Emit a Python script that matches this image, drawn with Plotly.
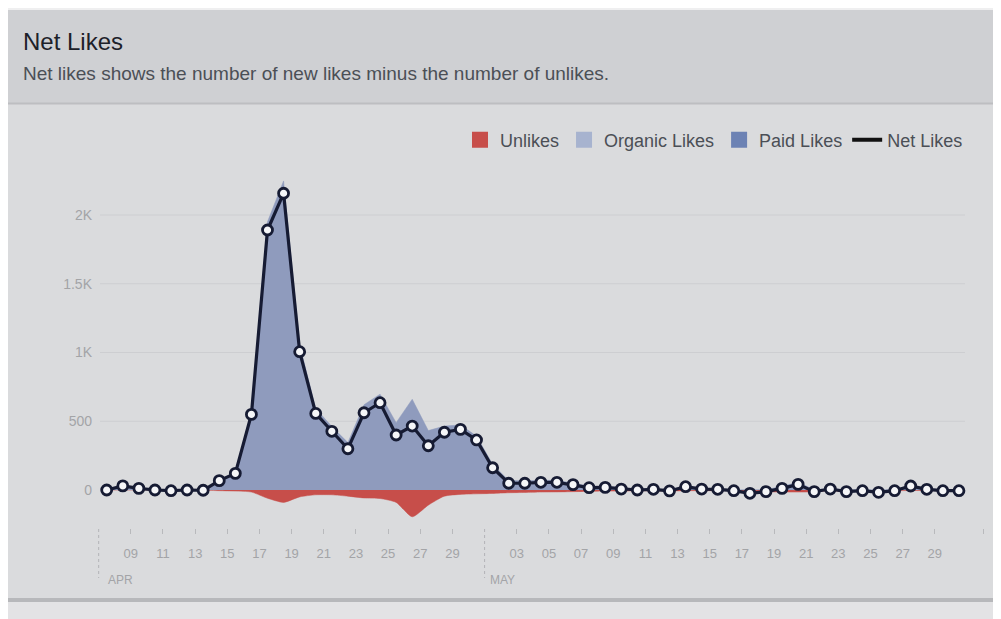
import pandas as pd
import plotly.graph_objects as go

# ---------------- data ----------------
start_date = "2015-04-08"
net_likes = [0, 30, 12, 0, -5, 0, -2, 68, 121, 550,
             1891, 2158, 1006, 557, 427, 300, 562, 635, 400, 465,
             322, 420, 441, 364, 162, 49, 49, 56, 56, 39,
             17, 19, 7, 0, 5, -7, 24, 7, 5, -5,
             -24, -12, 12, 41, -12, 7, -12, -5, -17, -5,
             29, 5, -5, -5]
unlikes = [0, 0, 0, 0, -5, 0, -2, -5, -8, -15,
           -60, -90, -50, -35, -35, -45, -58, -62, -90, -195,
           -110, -45, -32, -28, -25, -20, -18, -15, -14, -12,
           -10, -8, -8, -6, -6, -8, -5, -5, -5, -6,
           -25, -14, -15, -15, -14, -5, -13, -6, -18, -6,
           -4, -4, -6, -6]
paid_likes = [0] * len(net_likes)
organic_likes = [n - u - p for n, u, p in zip(net_likes, unlikes, paid_likes)]
dates = pd.date_range(start_date, periods=len(net_likes), freq="D")

apr_tick_days = ["09", "11", "13", "15", "17", "19", "21", "23", "25", "27", "29"]
may_tick_days = ["03", "05", "07", "09", "11", "13", "15", "17", "19", "21", "23", "25", "27", "29"]
y_tick_vals = [0, 500, 1000, 1500, 2000]
y_tick_text = ["0", "500", "1K", "1.5K", "2K"]
legend_names = ["Unlikes", "Organic Likes", "Paid Likes", "Net Likes"]

# ---------------- styling / geometry ----------------
OFF = 8                      # page body margin
W, H = 1001 - OFF, 619 - OFF
PX_L, PX_R, PX_T, PX_B = 95, 986, 170, 528
L, R, T, B = PX_L - OFF, W - (PX_R - OFF), PX_T - OFF, H - (PX_B - OFF)
PW, PH = W - L - R, H - T - B
FONT = "Liberation Sans, Arial, sans-serif"

RED = "#C74E4A"
AREA = "#8F9BBD"
ORG_SW = "#A7B3CF"
PAID_SW = "#6C82B4"
NAVY = "#161B33"
TICK_GRAY = "#A3A4A7"


def px_x(p):
    return (p - PX_L) / PW


def px_y(p):
    return (PX_B - p) / PH


DAY_PX = 16.08
half_day = pd.Timedelta(hours=12)
x0 = dates[0] - pd.Timedelta(days=(106.7 - PX_L) / DAY_PX)
x1 = x0 + pd.Timedelta(days=PW / DAY_PX)
ZERO_PX, PX_PER_UNIT = 490, 0.1375
y0 = -(PX_B - ZERO_PX) / PX_PER_UNIT
y1 = (ZERO_PX - PX_T) / PX_PER_UNIT

tickvals = [pd.Timestamp(f"2015-04-{d}") + half_day for d in apr_tick_days] + \
           [pd.Timestamp(f"2015-05-{d}") + half_day for d in may_tick_days] + \
           [pd.Timestamp("2015-06-01") + half_day]
ticktext = apr_tick_days + may_tick_days + [""]

fig = go.Figure()

fig.add_trace(go.Scatter(x=dates, y=unlikes, mode="lines", fill="tozeroy",
                         line=dict(color=RED, width=0.5, shape="spline", smoothing=0.6),
                         fillcolor=RED, showlegend=False, hoverinfo="skip"))
fig.add_trace(go.Scatter(x=dates, y=paid_likes, mode="lines", stackgroup="likes",
                         line=dict(color=PAID_SW, width=0), fillcolor=PAID_SW,
                         showlegend=False, hoverinfo="skip"))
fig.add_trace(go.Scatter(x=dates, y=organic_likes, mode="lines", stackgroup="likes",
                         line=dict(color=AREA, width=0.5), fillcolor=AREA,
                         showlegend=False, hoverinfo="skip"))
fig.add_trace(go.Scatter(x=dates, y=net_likes, mode="lines+markers",
                         line=dict(color=NAVY, width=3.2),
                         marker=dict(symbol="circle", size=10, color="#F5F6F8",
                                     line=dict(color=NAVY, width=2.8)),
                         showlegend=False))

for name, col in zip(legend_names[:3], [RED, ORG_SW, PAID_SW]):
    fig.add_trace(go.Scatter(x=[None], y=[None], mode="markers", name=name,
                             marker=dict(symbol="square", size=18, color=col)))
fig.add_trace(go.Scatter(x=[None], y=[None], mode="lines", name=legend_names[3],
                         line=dict(color="#111111", width=4)))

shapes = []
shapes.append(dict(type="rect", xref="paper", yref="paper", x0=px_x(0), x1=px_x(1001),
                   y0=px_y(10), y1=px_y(0), fillcolor="#EFEFF0", line_width=0, layer="below"))
shapes.append(dict(type="rect", xref="paper", yref="paper", x0=px_x(8), x1=px_x(997),
                   y0=px_y(103), y1=px_y(10), fillcolor="#CFD0D3", line_width=0, layer="below"))
shapes.append(dict(type="rect", xref="paper", yref="paper", x0=px_x(8), x1=px_x(997),
                   y0=px_y(598), y1=px_y(103), fillcolor="#DADBDD", line_width=0, layer="below"))
shapes.append(dict(type="line", xref="paper", yref="paper", x0=px_x(8), x1=px_x(997),
                   y0=px_y(103.5), y1=px_y(103.5), line=dict(color="#BDBEC1", width=2), layer="below"))
shapes.append(dict(type="rect", xref="paper", yref="paper", x0=px_x(8), x1=px_x(997),
                   y0=px_y(602), y1=px_y(598), fillcolor="#B7B8BB", line_width=0, layer="below"))
for v in y_tick_vals:
    shapes.append(dict(type="line", xref="paper", yref="y", x0=px_x(100), x1=px_x(965),
                       y0=v, y1=v, line=dict(color="#CDCED1", width=1), layer="below"))
for d in ["2015-04-07", "2015-05-01"]:
    xd = pd.Timestamp(d) + half_day
    shapes.append(dict(type="line", xref="x", yref="paper", x0=xd, x1=xd,
                       y0=px_y(529), y1=px_y(578), line=dict(color="#B3B4B7", width=1, dash="dot")))

annotations = [
    dict(text="Net Likes", xref="paper", yref="paper", x=px_x(21), y=px_y(42),
         xanchor="left", yanchor="middle", showarrow=False,
         font=dict(family=FONT, size=24, color="#1D2129")),
    dict(text="Net likes shows the number of new likes minus the number of unlikes.",
         xref="paper", yref="paper", x=px_x(21), y=px_y(73), xanchor="left", yanchor="middle",
         showarrow=False, font=dict(family=FONT, size=19, color="#4B4F56")),
    dict(text="APR", xref="x", yref="paper", x=pd.Timestamp("2015-04-07") + half_day, y=px_y(580),
         xanchor="left", yanchor="middle", xshift=7, showarrow=False,
         font=dict(family=FONT, size=12, color=TICK_GRAY)),
    dict(text="MAY", xref="x", yref="paper", x=pd.Timestamp("2015-05-01") + half_day, y=px_y(580),
         xanchor="left", yanchor="middle", xshift=3, showarrow=False,
         font=dict(family=FONT, size=12, color=TICK_GRAY)),
]

fig.update_layout(
    width=W, height=H,
    margin=dict(l=L, r=R, t=T, b=B),
    paper_bgcolor="#E3E3E5",
    plot_bgcolor="rgba(0,0,0,0)",
    font=dict(family=FONT),
    shapes=shapes,
    annotations=annotations,
    showlegend=True,
    legend=dict(orientation="h", x=px_x(968), xanchor="right", y=px_y(140), yanchor="middle",
                bgcolor="rgba(0,0,0,0)", font=dict(family=FONT, size=18, color="#4B4F56"),
                itemwidth=30, traceorder="normal"),
    xaxis=dict(type="date", range=[x0, x1], showgrid=False, zeroline=False, showline=False,
               tickmode="array", tickvals=tickvals, ticktext=ticktext,
               ticks="outside", ticklen=5, tickwidth=1, tickcolor="#B8B9BC",
               tickfont=dict(family=FONT, size=13, color=TICK_GRAY), ticklabelstandoff=8),
    yaxis=dict(range=[y0, y1], showgrid=False,
               zeroline=False, showline=False, tickmode="array",
               tickvals=y_tick_vals, ticktext=y_tick_text, ticks="",
               tickfont=dict(family=FONT, size=14, color=TICK_GRAY), ticklabelstandoff=2),
)

fig.write_html("out.html")
